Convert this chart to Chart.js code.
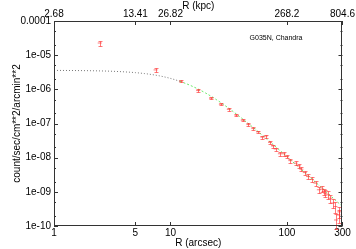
<!DOCTYPE html>
<html>
<head>
<meta charset="utf-8">
<script src="https://cdn.jsdelivr.net/npm/chart.js@4/dist/chart.umd.min.js"></script>
<style>
html,body{margin:0;padding:0;background:#fff;}
canvas{display:block;}
</style>
</head>
<body>
<canvas id="c" width="356" height="249"></canvas>
<script>
// ---- data ----
const radius = [2.47, 7.45, 12.3, 17.3, 22.3, 27.1, 31.7, 36.9, 41.8, 46.7, 51.5, 56.5, 61.5, 65.7, 71.6, 75.9, 80, 87, 93.7, 100, 107, 118.6, 126.7, 133, 142.5, 152, 164, 176, 188, 200, 207, 214, 225, 236, 247, 261, 264, 278, 282];
const surfBright = [2.27e-5, 3.7e-6, 1.73e-6, 9.2e-7, 5.5e-7, 3.67e-7, 2.6e-7, 1.75e-7, 1.25e-7, 9.3e-8, 7.1e-8, 5.7e-8, 4.0e-8, 4.3e-8, 2.8e-8, 2.2e-8, 1.8e-8, 1.3e-8, 1.3e-8, 1.08e-8, 8.2e-9, 6.9e-9, 5.75e-9, 4.6e-9, 3.66e-9, 2.8e-9, 2.3e-9, 1.8e-9, 1.15e-9, 1.2e-9, 1.02e-9, 9.1e-10, 8.2e-10, 6.5e-10, 4.7e-10, 3.7e-10, 1.5e-10, 2.1e-10, 2.6e-10];
const relErr = [0.18, 0.12, 0.08, 0.08, 0.08, 0.08, 0.08, 0.08, 0.08, 0.08, 0.09, 0.09, 0.1, 0.1, 0.1, 0.1, 0.1, 0.12, 0.12, 0.12, 0.12, 0.13, 0.13, 0.14, 0.14, 0.15, 0.16, 0.18, 0.2, 0.2, 0.22, 0.22, 0.25, 0.28, 0.3, 0.35, 0.45, 0.4, 0.35];
const fitInnerR = [1, 1.5, 2, 3, 4, 5, 6, 7, 8, 10, 12];
const fitInnerY = [3.58e-6, 3.55e-6, 3.51e-6, 3.40e-6, 3.25e-6, 3.08e-6, 2.89e-6, 2.69e-6, 2.49e-6, 2.09e-6, 1.73e-6];
const fitOuterR = [12, 15, 20, 25, 30, 40, 50, 70, 100, 150, 200, 250, 300];
const fitOuterY = [1.73e-6, 1.28e-6, 7.82e-7, 4.90e-7, 3.19e-7, 1.52e-7, 8.22e-8, 3.11e-8, 1.07e-8, 3.12e-9, 1.29e-9, 6.51e-10, 3.73e-10];
const xTickValues = [1, 5, 10, 100, 300];
const xTickLabels = ['1', '5', '10', '100', '300'];
const x2TickLabels = ['2.68', '13.41', '26.82', '268.2', '804.6'];
const yTickValues = [1e-10, 1e-9, 1e-8, 1e-7, 1e-6, 1e-5, 1e-4];
const yTickLabels = ['1e-10', '1e-09', '1e-08', '1e-07', '1e-06', '1e-05', '0.0001'];
const yMinorFactors = [2, 5];
const annotation = 'G035N, Chandra';

const RED = 'rgba(255,50,50,0.65)';
Chart.defaults.font.family = '"Liberation Sans", Arial, Helvetica, sans-serif';
Chart.defaults.font.size = 10;
Chart.defaults.color = '#000';

const decor = {
  id: 'decor',
  afterDatasetsDraw(chart) {
    const {ctx, chartArea: a, scales: {x, y}} = chart;
    ctx.save();
    ctx.strokeStyle = RED;
    ctx.lineWidth = 1;
    radius.forEach((r, i) => {
      const px = Math.round(x.getPixelForValue(r)) + 0.5;
      const lo = Math.round(y.getPixelForValue(surfBright[i] * (1 - relErr[i]))) + 0.5;
      const hi = Math.round(y.getPixelForValue(surfBright[i] * (1 + relErr[i]))) + 0.5;
      ctx.beginPath();
      ctx.moveTo(px, lo); ctx.lineTo(px, hi);
      ctx.moveTo(px - 2, lo); ctx.lineTo(px + 2, lo);
      ctx.moveTo(px - 2, hi); ctx.lineTo(px + 2, hi);
      ctx.stroke();
    });
    // frame and inward ticks
    ctx.strokeStyle = '#333';
    ctx.lineWidth = 1;
    ctx.strokeRect(Math.round(a.left) + 0.5, Math.round(a.top) + 0.5, Math.round(a.right - a.left) - 1, Math.round(a.bottom - a.top) - 1);
    ctx.beginPath();
    xTickValues.forEach(v => {
      const px = Math.round(x.getPixelForValue(v)) + 0.5;
      ctx.moveTo(px, a.bottom); ctx.lineTo(px, a.bottom - 4);
      ctx.moveTo(px, a.top); ctx.lineTo(px, a.top + 4);
    });
    yTickValues.forEach((v, k) => {
      const py = Math.round(y.getPixelForValue(v)) + 0.5;
      ctx.moveTo(a.left, py); ctx.lineTo(a.left + 4, py);
      ctx.moveTo(a.right, py); ctx.lineTo(a.right - 4, py);
      if (k < yTickValues.length - 1) {
        yMinorFactors.forEach(f => {
          const pm = Math.round(y.getPixelForValue(v * f)) + 0.5;
          ctx.moveTo(a.left, pm); ctx.lineTo(a.left + 2, pm);
          ctx.moveTo(a.right, pm); ctx.lineTo(a.right - 2, pm);
        });
      }
    });
    ctx.stroke();
    // annotation
    ctx.fillStyle = '#000';
    ctx.font = '7px "Liberation Sans", Arial, sans-serif';
    ctx.textAlign = 'right';
    ctx.textBaseline = 'middle';
    ctx.fillText(annotation, a.right - 40, a.top + 17);
    ctx.restore();
  }
};

const pts = radius.map((r, i) => ({x: r, y: surfBright[i]}));
const inner = fitInnerR.map((r, i) => ({x: r, y: fitInnerY[i]}));
const outer = fitOuterR.map((r, i) => ({x: r, y: fitOuterY[i]}));

new Chart(document.getElementById('c'), {
  type: 'scatter',
  data: {
    datasets: [
      {data: inner, showLine: true, borderColor: '#777', borderWidth: 1, borderDash: [1, 2], pointRadius: 0, cubicInterpolationMode: 'monotone'},
      {data: outer, showLine: true, borderColor: 'rgba(80,230,80,0.85)', borderWidth: 1, borderDash: [2, 2], pointRadius: 0, cubicInterpolationMode: 'monotone'},
      {data: pts, showLine: false, pointStyle: 'line', pointRadius: 2, borderColor: RED, borderWidth: 1, backgroundColor: RED}
    ]
  },
  options: {
    responsive: false,
    animation: false,
    devicePixelRatio: 1,
    layout: {padding: {left: 0, right: 12, top: 0, bottom: 0}},
    plugins: {legend: {display: false}, tooltip: {enabled: false}},
    scales: {
      x: {
        type: 'logarithmic', position: 'bottom', min: 1, max: 300,
        grid: {display: false, drawTicks: false}, border: {display: false},
        afterBuildTicks: s => { s.ticks = xTickValues.map(v => ({value: v})); },
        afterFit: s => { s.height = 23; },
        ticks: {autoSkip: false, maxRotation: 0, padding: 1, callback: (v, i) => xTickLabels[i]},
        title: {display: true, text: 'R (arcsec)', padding: {top: 0, bottom: 0}}
      },
      x2: {
        type: 'logarithmic', position: 'top', min: 1, max: 300,
        grid: {display: false, drawTicks: false}, border: {display: false},
        afterBuildTicks: s => { s.ticks = xTickValues.map(v => ({value: v})); },
        afterFit: s => { s.height = 21; },
        ticks: {autoSkip: false, maxRotation: 0, padding: 1, callback: (v, i) => x2TickLabels[i]},
        title: {display: true, text: 'R (kpc)', padding: {top: 0, bottom: 0}}
      },
      y: {
        type: 'logarithmic', position: 'left', min: 1e-10, max: 1e-4,
        grid: {display: false, drawTicks: false}, border: {display: false},
        afterBuildTicks: s => { s.ticks = yTickValues.map(v => ({value: v})); },
        afterFit: s => { s.width = 54; },
        ticks: {autoSkip: false, padding: 3, callback: (v, i) => yTickLabels[i]},
        title: {display: true, text: 'count/sec/cm**2/arcmin**2', padding: {top: 11, bottom: 0}}
      }
    }
  },
  plugins: [decor]
});
</script>
</body>
</html>
